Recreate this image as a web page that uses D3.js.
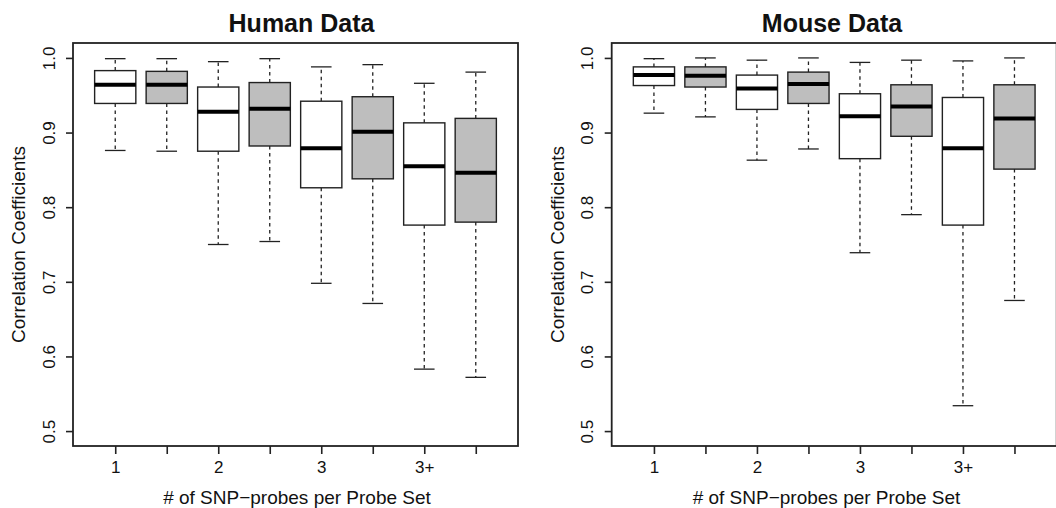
<!DOCTYPE html>
<html>
<head>
<meta charset="utf-8">
<script src="https://cdn.jsdelivr.net/npm/d3@7"></script>
<style>
  body { margin: 0; background: #fff; }
  svg { display: block; font-family: "Liberation Sans", Arial, sans-serif; }
</style>
</head>
<body>
<svg id="chart"></svg>
<script>
const SVG_WIDTH = 1056;
const SVG_HEIGHT = 508;

// box positions 1..8, labels only on every other tick
const positions = [1, 2, 3, 4, 5, 6, 7, 8];
const tickLabels = ['1', '', '2', '', '3', '', '3+', ''];
const fills = ['#ffffff', '#bebebe', '#ffffff', '#bebebe', '#ffffff', '#bebebe', '#ffffff', '#bebebe'];
const yTicks = [0.5, 0.6, 0.7, 0.8, 0.9, 1.0];

// Human data
const humanLow = [0.876, 0.875, 0.750, 0.754, 0.698, 0.671, 0.583, 0.572];
const humanQ1 = [0.939, 0.939, 0.875, 0.882, 0.826, 0.838, 0.776, 0.780];
const humanMed = [0.964, 0.964, 0.928, 0.932, 0.879, 0.901, 0.855, 0.846];
const humanQ3 = [0.983, 0.982, 0.961, 0.967, 0.942, 0.948, 0.913, 0.919];
const humanHigh = [0.999, 0.999, 0.995, 0.999, 0.988, 0.991, 0.966, 0.981];

// Mouse data
const mouseLow = [0.926, 0.921, 0.863, 0.878, 0.739, 0.790, 0.534, 0.675];
const mouseQ1 = [0.963, 0.961, 0.931, 0.939, 0.865, 0.895, 0.776, 0.851];
const mouseMed = [0.977, 0.976, 0.959, 0.965, 0.922, 0.935, 0.879, 0.919];
const mouseQ3 = [0.988, 0.988, 0.977, 0.981, 0.952, 0.964, 0.947, 0.964];
const mouseHigh = [0.999, 1.000, 0.997, 1.000, 0.994, 0.997, 0.996, 1.000];

const svg = d3.select('#chart')
  .attr('width', SVG_WIDTH)
  .attr('height', SVG_HEIGHT);

function drawPanel(opts) {
  const {left, title, titleX, xTitleX, low, q1, med, q3, high} = opts;
  const width = 445;
  const top = 43, bottom = 446;

  // R-style extended ranges
  const x = d3.scaleLinear().domain([0.18, 8.82]).range([left, left + width]);
  const y = d3.scaleLinear().domain([0.48, 1.02]).range([bottom, top]);
  const unit = x(1) - x(0);

  const g = svg.append('g');

  const boxes = positions.map((p, i) => ({
    p, fill: fills[i], low: low[i], q1: q1[i], med: med[i], q3: q3[i], high: high[i]
  }));

  const box = g.selectAll('g.box')
    .data(boxes)
    .enter()
    .append('g')
    .attr('class', 'box');

  // whiskers (dashed)
  box.append('line')
    .attr('x1', d => x(d.p)).attr('x2', d => x(d.p))
    .attr('y1', d => y(d.q3)).attr('y2', d => y(d.high))
    .attr('stroke', '#222').attr('stroke-width', 1.3)
    .attr('stroke-dasharray', '3.5,3.5');
  box.append('line')
    .attr('x1', d => x(d.p)).attr('x2', d => x(d.p))
    .attr('y1', d => y(d.q1)).attr('y2', d => y(d.low))
    .attr('stroke', '#222').attr('stroke-width', 1.3)
    .attr('stroke-dasharray', '3.5,3.5');

  // staples
  box.append('line')
    .attr('x1', d => x(d.p - 0.2)).attr('x2', d => x(d.p + 0.2))
    .attr('y1', d => y(d.high)).attr('y2', d => y(d.high))
    .attr('stroke', '#222').attr('stroke-width', 1.3);
  box.append('line')
    .attr('x1', d => x(d.p - 0.2)).attr('x2', d => x(d.p + 0.2))
    .attr('y1', d => y(d.low)).attr('y2', d => y(d.low))
    .attr('stroke', '#222').attr('stroke-width', 1.3);

  // boxes
  box.append('rect')
    .attr('x', d => x(d.p - 0.4))
    .attr('width', unit * 0.8)
    .attr('y', d => y(d.q3))
    .attr('height', d => y(d.q1) - y(d.q3))
    .attr('fill', d => d.fill)
    .attr('stroke', '#222').attr('stroke-width', 1.4);

  // medians
  box.append('line')
    .attr('x1', d => x(d.p - 0.4)).attr('x2', d => x(d.p + 0.4))
    .attr('y1', d => y(d.med)).attr('y2', d => y(d.med))
    .attr('stroke', '#000').attr('stroke-width', 4);

  // frame
  g.append('rect')
    .attr('x', left).attr('y', top)
    .attr('width', width).attr('height', bottom - top)
    .attr('fill', 'none').attr('stroke', '#222').attr('stroke-width', 1.8);

  // x axis
  const xAxis = d3.axisBottom(x)
    .tickValues(positions)
    .tickSize(8)
    .tickPadding(7)
    .tickFormat((d, i) => tickLabels[i]);
  const xa = g.append('g').attr('transform', `translate(0,${bottom})`).call(xAxis);
  xa.select('.domain').remove();
  xa.selectAll('line').attr('stroke', '#222').attr('stroke-width', 1.6);
  xa.selectAll('text').attr('font-size', 17).attr('fill', '#111')
    .attr('font-family', '"Liberation Sans", Arial, sans-serif');

  // y axis
  const yAxis = d3.axisLeft(y)
    .tickValues(yTicks)
    .tickSize(7)
    .tickFormat(d3.format('.1f'));
  const ya = g.append('g').attr('transform', `translate(${left},0)`).call(yAxis);
  ya.select('.domain').remove();
  ya.selectAll('line').attr('stroke', '#222').attr('stroke-width', 1.6);
  ya.selectAll('text')
    .attr('font-size', 17).attr('fill', '#111')
    .attr('font-family', '"Liberation Sans", Arial, sans-serif')
    .attr('x', null).attr('dy', null)
    .attr('text-anchor', 'middle')
    .attr('transform', 'translate(-18.5,0) rotate(-90)');

  // titles
  g.append('text')
    .attr('x', titleX).attr('y', 32)
    .attr('text-anchor', 'middle')
    .attr('font-size', 25).attr('font-weight', 'bold').attr('fill', '#111')
    .text(title);

  g.append('text')
    .attr('x', xTitleX).attr('y', 504)
    .attr('text-anchor', 'middle')
    .attr('font-size', 19).attr('fill', '#111')
    .text('# of SNP\u2212probes per Probe Set');

  g.append('text')
    .attr('transform', `translate(${left - 48},${(top + bottom) / 2}) rotate(-90)`)
    .attr('text-anchor', 'middle')
    .attr('font-size', 19).attr('fill', '#111')
    .text('Correlation Coefficients');
}

drawPanel({
  left: 73, title: 'Human Data', titleX: 301.5, xTitleX: 297,
  low: humanLow, q1: humanQ1, med: humanMed, q3: humanQ3, high: humanHigh
});

drawPanel({
  left: 611.7, title: 'Mouse Data', titleX: 832, xTitleX: 826.5,
  low: mouseLow, q1: mouseQ1, med: mouseMed, q3: mouseQ3, high: mouseHigh
});
</script>
</body>
</html>
